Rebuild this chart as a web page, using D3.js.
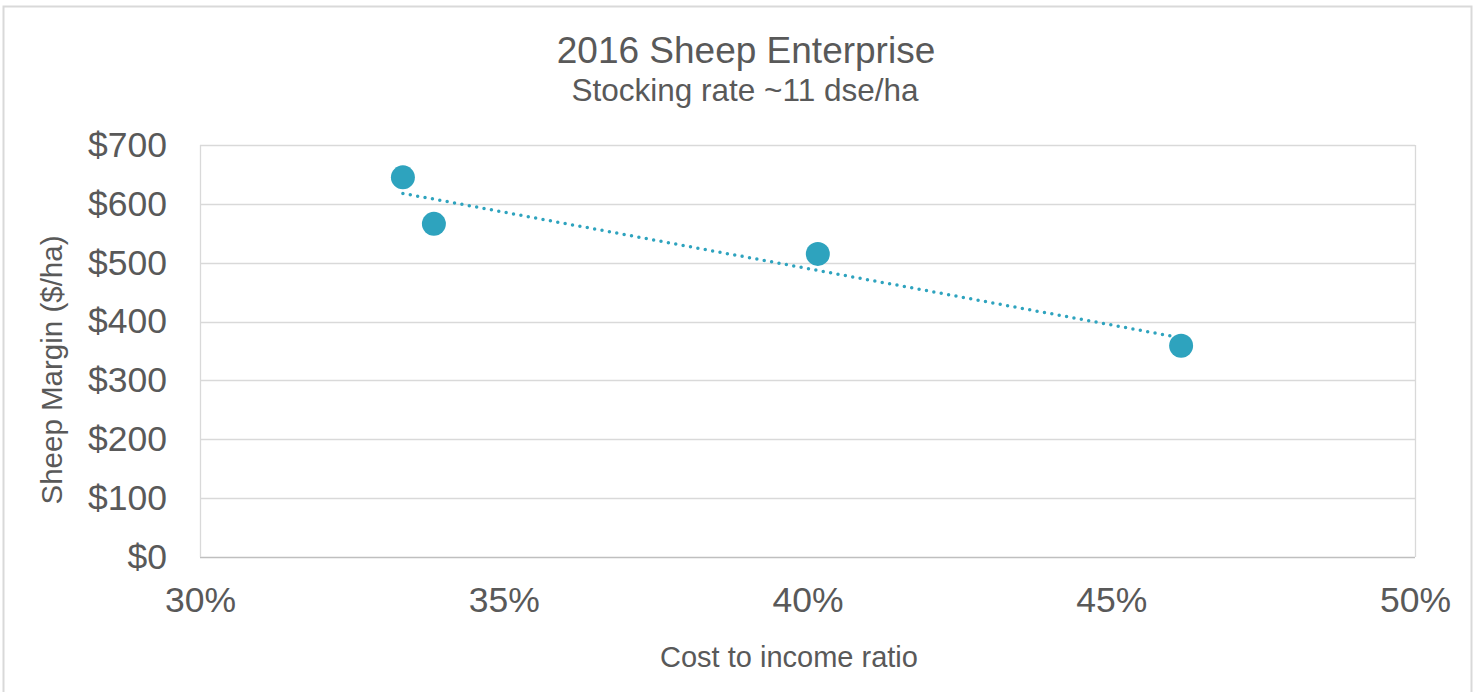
<!DOCTYPE html>
<html>
<head>
<meta charset="utf-8">
<script src="https://cdn.jsdelivr.net/npm/d3@7"></script>
<style>
  body { margin: 0; background: #fff; }
  svg { display: block; font-family: "Liberation Sans", Arial, sans-serif; }
</style>
</head>
<body>
<div id="chart"></div>
<script>
// cost to income ratio (%) and sheep margin ($/ha)
var costRatio = [33.34, 33.85, 40.17, 46.15];
var margin$ = [645, 566, 515, 359];
var xTicks = [30, 35, 40, 45, 50];
var yTicks = [0, 100, 200, 300, 400, 500, 600, 700];

var W = 1474, H = 692;
var plot = {left: 200, right: 1415, top: 145, bottom: 557};
var textCol = "#595959", gridCol = "#d9d9d9", dotCol = "#2ea3be";

var svg = d3.select("#chart").append("svg")
    .attr("width", W)
    .attr("height", H);

// outer frame
svg.append("rect")
    .attr("x", 3.5).attr("y", 6.5)
    .attr("width", W - 6).attr("height", H + 10)
    .attr("fill", "none")
    .attr("stroke", gridCol)
    .attr("stroke-width", 2);

var x = d3.scaleLinear().domain([30, 50]).range([plot.left, plot.right]);
var y = d3.scaleLinear().domain([0, 700]).range([plot.bottom, plot.top]);

// gridlines
svg.append("g")
    .selectAll("line")
    .data(yTicks)
    .join("line")
    .attr("x1", plot.left).attr("x2", plot.right)
    .attr("y1", function(d) { return Math.round(y(d)) + 0.5; })
    .attr("y2", function(d) { return Math.round(y(d)) + 0.5; })
    .attr("stroke", function(d) { return d === 0 ? "#bfbfbf" : gridCol; })
    .attr("stroke-width", 1.3);

// plot area left/right edges
[plot.left, plot.right].forEach(function(px) {
  svg.append("line")
      .attr("x1", px + 0.5).attr("x2", px + 0.5)
      .attr("y1", plot.top).attr("y2", plot.bottom)
      .attr("stroke", gridCol)
      .attr("stroke-width", 1.3);
});

// y axis labels
var yAxis = d3.axisLeft(y)
    .tickValues(yTicks)
    .tickSize(0)
    .tickPadding(0)
    .tickFormat(function(d) { return "$" + d; });
var gy = svg.append("g")
    .attr("transform", "translate(" + 167 + ",0)")
    .call(yAxis);
gy.select(".domain").remove();
gy.selectAll("text")
    .attr("fill", textCol)
    .attr("font-size", 35.5)
    .attr("font-family", "Liberation Sans, Arial, sans-serif");

// x axis labels
var xAxis = d3.axisBottom(x)
    .tickValues(xTicks)
    .tickSize(0)
    .tickPadding(0)
    .tickFormat(function(d) { return d + "%"; });
var gx = svg.append("g")
    .attr("transform", "translate(0," + 587 + ")")
    .call(xAxis);
gx.select(".domain").remove();
gx.selectAll("text")
    .attr("fill", textCol)
    .attr("font-size", 35.5)
    .attr("font-family", "Liberation Sans, Arial, sans-serif");

// linear trendline (least squares through the points)
var mx = d3.mean(costRatio), my = d3.mean(margin$);
var sxy = d3.sum(costRatio, function(d, i) { return (d - mx) * (margin$[i] - my); });
var sxx = d3.sum(costRatio, function(d) { return (d - mx) * (d - mx); });
var slope = sxy / sxx, icpt = my - slope * mx;
var xr = d3.extent(costRatio);

svg.append("line")
    .attr("x1", x(xr[0])).attr("y1", y(icpt + slope * xr[0]))
    .attr("x2", x(xr[1])).attr("y2", y(icpt + slope * xr[1]))
    .attr("stroke", dotCol)
    .attr("stroke-width", 3.5)
    .attr("stroke-linecap", "round")
    .attr("stroke-dasharray", "0,7.5");

// points
svg.append("g")
    .selectAll("circle")
    .data(costRatio)
    .join("circle")
    .attr("cx", function(d) { return x(d); })
    .attr("cy", function(d, i) { return y(margin$[i]); })
    .attr("r", 12)
    .attr("fill", dotCol);

// titles
svg.append("text")
    .attr("x", 746).attr("y", 63)
    .attr("text-anchor", "middle")
    .attr("font-size", 37)
    .attr("fill", textCol)
    .text("2016 Sheep Enterprise");

svg.append("text")
    .attr("x", 745).attr("y", 101)
    .attr("text-anchor", "middle")
    .attr("font-size", 31.5)
    .attr("fill", textCol)
    .text("Stocking rate ~11 dse/ha");

svg.append("text")
    .attr("x", 789).attr("y", 667)
    .attr("text-anchor", "middle")
    .attr("font-size", 29)
    .attr("fill", textCol)
    .text("Cost to income ratio");

svg.append("text")
    .attr("transform", "translate(62,370) rotate(-90)")
    .attr("text-anchor", "middle")
    .attr("font-size", 29.5)
    .attr("fill", textCol)
    .text("Sheep Margin ($/ha)");
</script>
</body>
</html>
